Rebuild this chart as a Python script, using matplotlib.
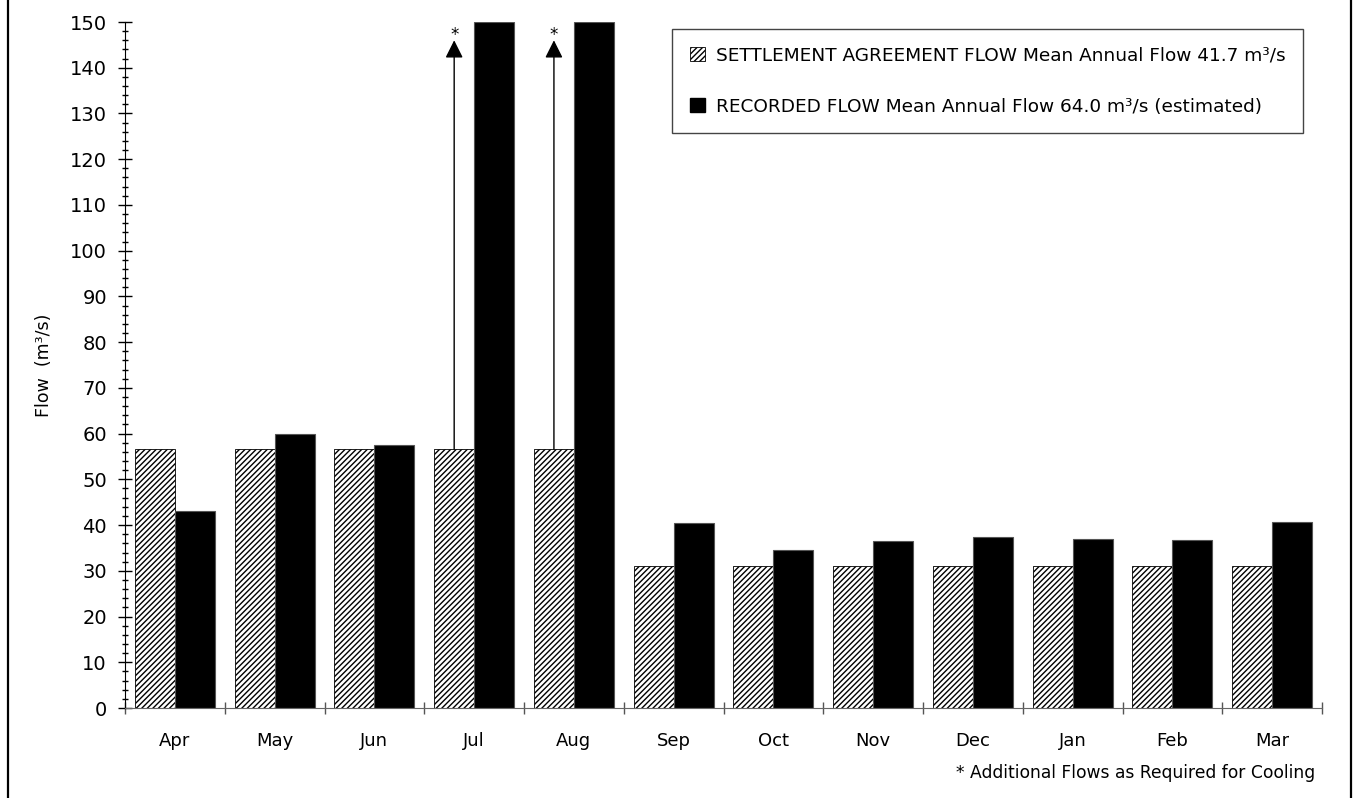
import numpy as np
import matplotlib
matplotlib.use("Agg")
import matplotlib.pyplot as plt
from matplotlib.lines import Line2D
from matplotlib.patches import Patch

months = ["Apr", "May", "Jun", "Jul", "Aug", "Sep", "Oct", "Nov", "Dec", "Jan", "Feb", "Mar"]
settlement = [56.6, 56.6, 56.6, 56.6, 56.6, 31.1, 31.1, 31.1, 31.1, 31.1, 31.1, 31.1]
recorded = [43.0, 59.9, 57.5, 150.0, 150.0, 40.4, 34.6, 36.5, 37.4, 36.9, 36.8, 40.6]
cooling_months = ["Jul", "Aug"]   # extra flow arrows
arrow_top = 146

settle_label = "SETTLEMENT AGREEMENT FLOW Mean Annual Flow 41.7 m³/s"
record_label = "RECORDED FLOW Mean Annual Flow 64.0 m³/s (estimated)"

plt.rcParams["font.family"] = ["DejaVu Sans"]

fig = plt.figure(figsize=(13.54, 7.98), dpi=100)
ax = fig.add_axes([125 / 1354, 1 - 708 / 798, 1197 / 1354, 686 / 798])

x = np.arange(len(months))
w = 0.4
ax.bar(x - w / 2, settlement, w, facecolor="white", edgecolor="black",
       hatch="//////", linewidth=0.6)
ax.bar(x + w / 2, recorded, w, color="black", edgecolor="#555555", linewidth=0.8)

for m in cooling_months:
    i = months.index(m)
    ax.annotate("", xy=(i - w / 2, arrow_top), xytext=(i - w / 2, settlement[i]),
                arrowprops=dict(arrowstyle="-|>", mutation_scale=27, color="black",
                                lw=1, shrinkA=0, shrinkB=0))
    ax.text(i - w / 2, arrow_top + 1.2, "*", ha="center", va="center", fontsize=12)

ax.set_xlim(-0.5, len(months) - 0.5)
ax.set_ylim(0, 150)
ax.set_yticks(np.arange(0, 151, 10))
ax.set_yticks(np.arange(0, 151, 2), minor=True)
ax.set_xticks(x)
ax.set_xticklabels(months)
ax.set_xticks(np.arange(-0.5, len(months)), minor=True)

ax.tick_params(axis="x", which="major", length=0, pad=17, labelsize=13)
ax.tick_params(axis="x", which="minor", direction="inout", length=8, width=1, color="#555555")
ax.tick_params(axis="y", which="major", direction="inout", length=10, width=1, pad=8, labelsize=14)
ax.tick_params(axis="y", which="minor", direction="inout", length=4.5, width=1)

for s in ["top", "right"]:
    ax.spines[s].set_visible(False)
ax.spines["bottom"].set_color("#666666")
ax.spines["left"].set_color("black")

ax.set_ylabel("Flow  (m³/s)", fontsize=12.5, labelpad=12)

handles = [Patch(facecolor="white", edgecolor="black", hatch="//////", linewidth=0.6),
           Patch(facecolor="black", edgecolor="black")]
leg = ax.legend(handles, [settle_label, record_label], loc="upper right",
                bbox_to_anchor=(0.984, 0.99), borderaxespad=0, fontsize=13.3,
                handlelength=0.8, handleheight=0.8, handletextpad=0.6,
                labelspacing=1.8, borderpad=0.95, fancybox=False, framealpha=1)
leg.get_frame().set_edgecolor("#444444")
leg.get_frame().set_linewidth(1)

fig.text(1315 / 1354, 1 - 773 / 798, "* Additional Flows as Required for Cooling",
         ha="right", va="center", fontsize=12.3)

# page border lines left and right
fig.add_artist(Line2D([8 / 1354, 8 / 1354], [0, 1], color="black", lw=1.6))
fig.add_artist(Line2D([1351 / 1354, 1351 / 1354], [0, 1], color="black", lw=1.6))

fig.savefig("out.png", dpi=100)
